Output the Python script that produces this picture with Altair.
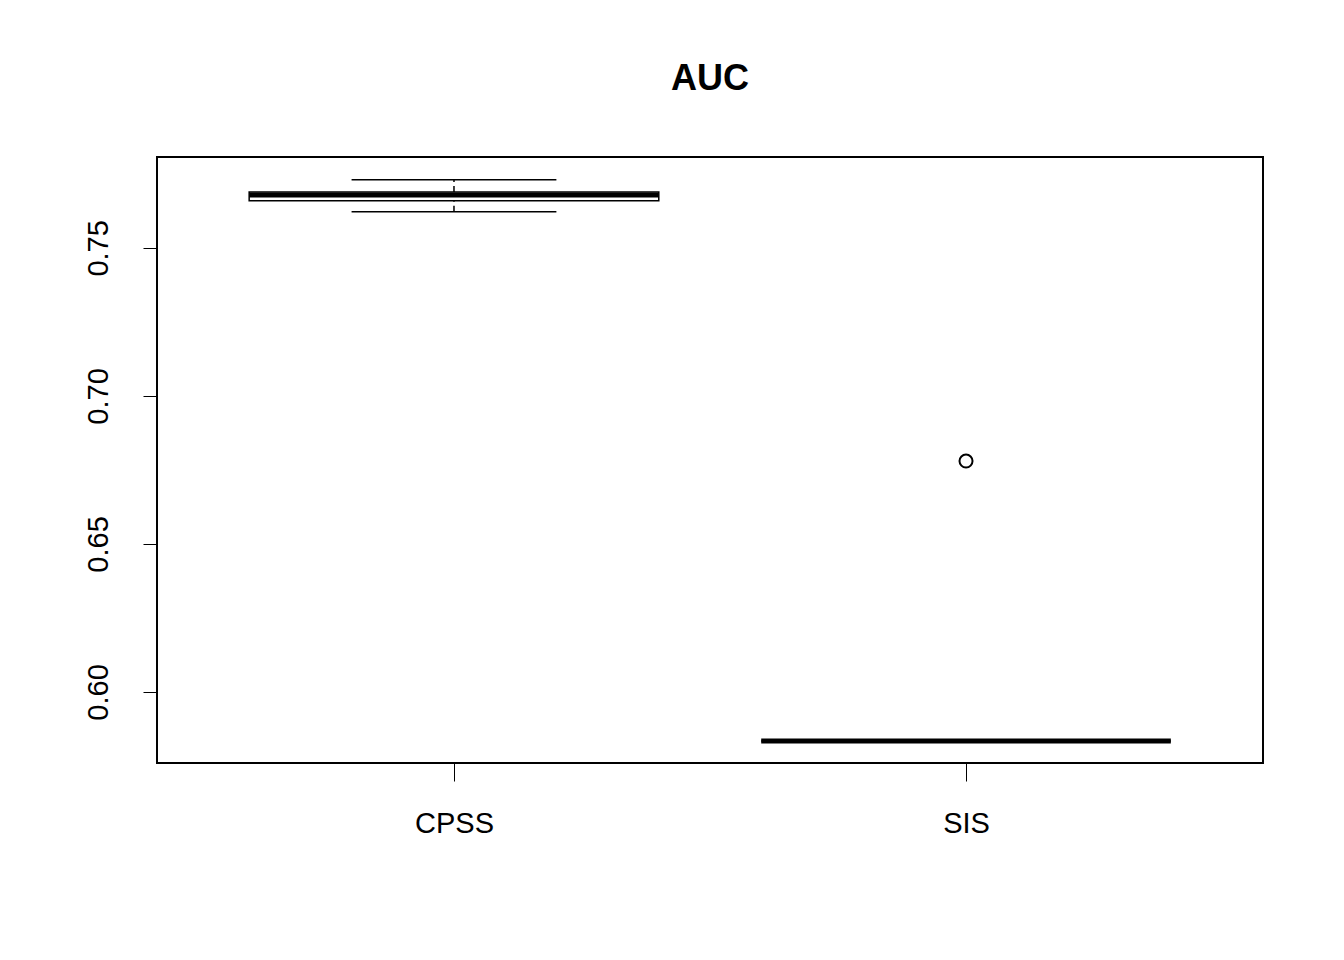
import altair as alt
import pandas as pd

groups = ["CPSS", "SIS"]
pos = [1, 2]
lower = [0.7622, 0.5834]
q1 = [0.7659, 0.5834]
median = [0.7679, 0.5834]
q3 = [0.7689, 0.5834]
upper = [0.7730, 0.5834]
out_group = [2]
out_value = [0.6780]

df = pd.DataFrame({"group": groups, "pos": pos, "lower": lower, "q1": q1,
                   "median": median, "q3": q3, "upper": upper})
df["bl"] = df["pos"] - 0.4
df["br"] = df["pos"] + 0.4
df["wl"] = df["pos"] - 0.2
df["wr"] = df["pos"] + 0.2
outs = pd.DataFrame({"pos": out_group, "value": out_value})

font = "Liberation Sans"
xs = alt.Scale(domain=[0.42, 2.58], nice=False, zero=False)
ys = alt.Scale(domain=[0.576, 0.7807], nice=False, zero=False)

xax = alt.Axis(values=[1, 2], labelExpr="datum.value == 1 ? 'CPSS' : 'SIS'", title=None,
               grid=False, domain=False, tickColor="black", tickSize=18, labelPadding=28,
               labelFontSize=29, labelFont=font, labelColor="black")
yax = alt.Axis(values=[0.60, 0.65, 0.70, 0.75], format=".2f", title=None, grid=False,
               domain=False, tickColor="black", tickSize=14, labelAngle=270,
               labelAlign="center", labelBaseline="bottom", labelPadding=30,
               labelFontSize=29, labelFont=font, labelColor="black")

base = alt.Chart(df)
box = base.mark_rect(fill="white", stroke="black", strokeWidth=1.5).encode(
    x=alt.X("bl:Q", scale=xs, axis=xax), x2="br:Q",
    y=alt.Y("q1:Q", scale=ys, axis=yax), y2="q3:Q")
stem_lo = base.mark_rule(color="black", strokeWidth=1.5, strokeDash=[6, 4]).encode(
    x=alt.X("pos:Q", scale=xs), y=alt.Y("lower:Q", scale=ys), y2="q1:Q")
stem_hi = base.mark_rule(color="black", strokeWidth=1.5, strokeDash=[6, 4]).encode(
    x=alt.X("pos:Q", scale=xs), y=alt.Y("q3:Q", scale=ys), y2="upper:Q")
cap_lo = base.mark_rule(color="black", strokeWidth=1.5).encode(
    x=alt.X("wl:Q", scale=xs), x2="wr:Q", y=alt.Y("lower:Q", scale=ys))
cap_hi = base.mark_rule(color="black", strokeWidth=1.5).encode(
    x=alt.X("wl:Q", scale=xs), x2="wr:Q", y=alt.Y("upper:Q", scale=ys))
med = base.mark_rule(color="black", strokeWidth=5).encode(
    x=alt.X("bl:Q", scale=xs), x2="br:Q", y=alt.Y("median:Q", scale=ys))
pts = alt.Chart(outs).mark_point(shape="circle", filled=False, color="black", opacity=1,
                                 size=170, strokeWidth=2).encode(
    x=alt.X("pos:Q", scale=xs), y=alt.Y("value:Q", scale=ys))
# plot frame, as R draws box() around the plot region
frame = alt.Chart(df).mark_rect(fill=None, stroke="black", strokeWidth=1.8).encode(
    x=alt.value(0), x2=alt.value(1106), y=alt.value(0), y2=alt.value(606))

chart = (alt.layer(box, stem_lo, stem_hi, cap_lo, cap_hi, med, pts, frame)
         .properties(width=1106, height=606, autosize=alt.AutoSizeParams(type="none"),
                     padding={"left": 149, "top": 149, "right": 70, "bottom": 180},
                     title=alt.TitleParams("AUC", font=font, fontSize=36, fontWeight="bold",
                                           anchor="middle", offset=58, color="black"))
         .configure_view(stroke=None)
         .configure(background="white"))

chart.save("out.html", embed_options={"renderer": "svg", "actions": False})
